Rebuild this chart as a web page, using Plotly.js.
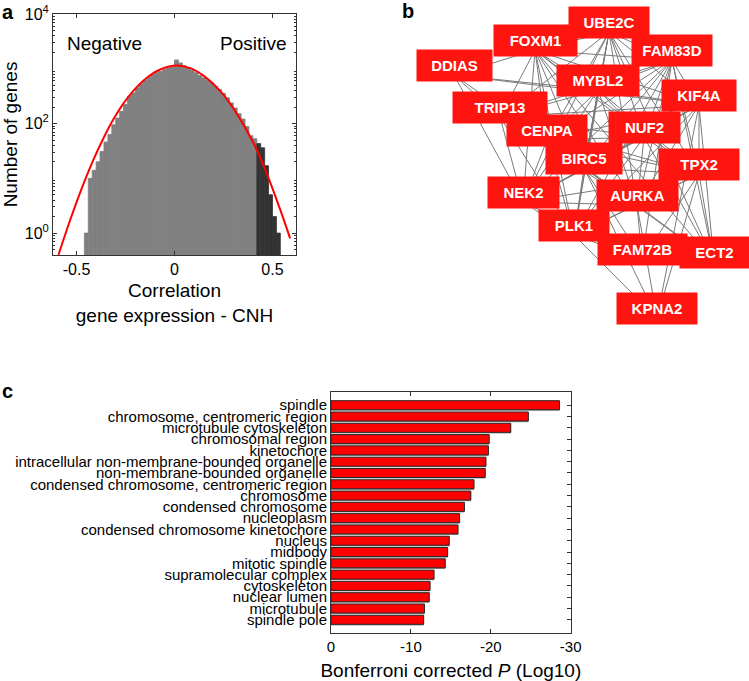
<!DOCTYPE html>
<html><head><meta charset="utf-8">
<script src="https://cdn.plot.ly/plotly-3.0.1.min.js"></script>
<style>html,body{margin:0;padding:0;background:#fff}#chart{width:749px;height:681px}</style>
</head><body><div id="chart"></div>
<script>
// ---------- Panel a: histogram of correlations ----------
const histCentersLight = [-0.45,-0.43,-0.41,-0.39,-0.37,-0.35,-0.33,-0.31,-0.29,-0.27,-0.25,-0.23,-0.21,-0.19,-0.17,-0.15,-0.13,-0.11,-0.09,-0.07,-0.05,-0.03,-0.01,0.01,0.03,0.05,0.07,0.09,0.11,0.13,0.15,0.17,0.19,0.21,0.23,0.25,0.27,0.29,0.31,0.33,0.35,0.37,0.39,0.41];
const histCountsLight = [1,10,14,20,31,46,63,95,126,167,222,315,363,447,530,610,700,780,850,900,970,1040,1080,1450,1280,1140,1050,940,850,755,680,615,550,480,418,355,295,238,192,151,121,88,60,53];
const histCentersDark = [0.43,0.45,0.47,0.49,0.51,0.53];
const histCountsDark = [43,36,17,5,2,1];
const fitX = [-0.592,-0.532,-0.464,-0.413,-0.362,-0.319,-0.268,-0.209,-0.141,-0.073,0.012,0.080,0.148,0.233,0.318,0.403,0.471,0.539,0.590];
const fitY = [0.40,1.75,8.0,22.2,54.5,108,212,398,685,970,1148,1030,750,394,152,44,12.2,2.7,0.80];
const aXTickVals = [-0.5,0,0.5];
const aXTickText = ['-0.5','0','0.5'];
const aYTickVals = [1,100,10000];
const aYTickText = ['10<sup>0</sup>','10<sup>2</sup>','10<sup>4</sup>'];

// ---------- Panel b: network ----------
const nodeNames = ['DDIAS','FOXM1','UBE2C','FAM83D','MYBL2','KIF4A','TRIP13','CENPA','NUF2','BIRC5','TPX2','NEK2','AURKA','PLK1','FAM72B','ECT2','KPNA2'];
const nodeX = [454,535,609,672,598,699,500,547,644,584,699,523,637,574,642,714,657];
const nodeY = [65,40,22,50,80,95,107,130,127,158,164,192,195,225,249,252,308];
const edges = [
["FOXM1","UBE2C"],["FOXM1","FAM83D"],["FOXM1","MYBL2"],["FOXM1","KIF4A"],["FOXM1","TRIP13"],["FOXM1","CENPA"],["FOXM1","NUF2"],["FOXM1","BIRC5"],["FOXM1","TPX2"],["FOXM1","NEK2"],["FOXM1","AURKA"],["FOXM1","PLK1"],["FOXM1","ECT2"],["FOXM1","DDIAS"],
["UBE2C","FAM83D"],["UBE2C","MYBL2"],["UBE2C","KIF4A"],["UBE2C","TRIP13"],["UBE2C","CENPA"],["UBE2C","NUF2"],["UBE2C","BIRC5"],["UBE2C","TPX2"],["UBE2C","NEK2"],["UBE2C","AURKA"],["UBE2C","PLK1"],["UBE2C","ECT2"],
["FAM83D","MYBL2"],["FAM83D","KIF4A"],["FAM83D","TRIP13"],["FAM83D","CENPA"],["FAM83D","NUF2"],["FAM83D","BIRC5"],["FAM83D","TPX2"],["FAM83D","NEK2"],["FAM83D","AURKA"],["FAM83D","PLK1"],["FAM83D","ECT2"],["FAM83D","FAM72B"],
["MYBL2","KIF4A"],["MYBL2","TRIP13"],["MYBL2","CENPA"],["MYBL2","NUF2"],["MYBL2","BIRC5"],["MYBL2","TPX2"],["MYBL2","NEK2"],["MYBL2","AURKA"],["MYBL2","PLK1"],
["KIF4A","TRIP13"],["KIF4A","CENPA"],["KIF4A","NUF2"],["KIF4A","BIRC5"],["KIF4A","TPX2"],["KIF4A","NEK2"],["KIF4A","AURKA"],["KIF4A","PLK1"],["KIF4A","ECT2"],["KIF4A","KPNA2"],
["TRIP13","CENPA"],["TRIP13","NUF2"],["TRIP13","BIRC5"],["TRIP13","TPX2"],["TRIP13","NEK2"],["TRIP13","AURKA"],["TRIP13","PLK1"],["TRIP13","DDIAS"],
["CENPA","NUF2"],["CENPA","BIRC5"],["CENPA","TPX2"],["CENPA","NEK2"],["CENPA","AURKA"],["CENPA","PLK1"],["CENPA","DDIAS"],
["NUF2","BIRC5"],["NUF2","TPX2"],["NUF2","NEK2"],["NUF2","AURKA"],["NUF2","PLK1"],["NUF2","ECT2"],
["BIRC5","TPX2"],["BIRC5","NEK2"],["BIRC5","AURKA"],["BIRC5","PLK1"],["BIRC5","ECT2"],["BIRC5","FAM72B"],["BIRC5","KPNA2"],
["TPX2","NEK2"],["TPX2","AURKA"],["TPX2","PLK1"],["TPX2","ECT2"],["TPX2","FAM72B"],["TPX2","KPNA2"],
["NEK2","AURKA"],["NEK2","PLK1"],["NEK2","DDIAS"],["NEK2","FAM72B"],
["AURKA","PLK1"],["AURKA","ECT2"],["AURKA","FAM72B"],["AURKA","KPNA2"],
["PLK1","ECT2"],["PLK1","FAM72B"],["PLK1","KPNA2"],
["ECT2","FAM72B"],["DDIAS","KIF4A"],["DDIAS","MYBL2"]
];
// box widths (style)
const nodeBoxW = [75,83,80,80,82,74,94,80,71,76,80,71,81,70,89,69,80];

// ---------- Panel c: GO enrichment ----------
const goTerms = ['spindle','chromosome, centromeric region','microtubule cytoskeleton','chromosomal region','kinetochore','intracellular non-membrane-bounded organelle','non-membrane-bounded organelle','condensed chromosome, centromeric region','chromosome','condensed chromosome','nucleoplasm','condensed chromosome kinetochore','nucleus','midbody','mitotic spindle','supramolecular complex','cytoskeleton','nuclear lumen','microtubule','spindle pole'];
const goLogP = [-28.6,-24.7,-22.5,-19.8,-19.7,-19.4,-19.3,-17.9,-17.5,-16.7,-16.1,-15.9,-14.8,-14.6,-14.3,-12.9,-12.4,-12.3,-11.7,-11.6];
const cXTickVals = [0,-10,-20,-30];
const cXTickText = ['0','-10','-20','-30'];

const FONT = 'Liberation Sans, Arial, Helvetica, sans-serif';

// edges -> line segments
const ex = [], ey = [];
const idx = {}; nodeNames.forEach((n,i)=>idx[n]=i);
edges.forEach(([a,b])=>{
  const i=idx[a], j=idx[b];
  ex.push(nodeX[i], nodeX[j], null);
  ey.push(nodeY[i]+10, nodeY[j]+10, null);
});

const minorVals = [];
[0.1,1,10,100,1000].forEach(d=>{for(let k=2;k<=9;k++) minorVals.push(k*d);});

const traces = [
  {type:'bar', x:histCentersLight, y:histCountsLight, width:0.02, marker:{color:'#808080', line:{width:0.8, color:'#808080'}}, xaxis:'x', yaxis:'y', hoverinfo:'skip'},
  {type:'bar', x:histCentersDark, y:histCountsDark, width:0.02, marker:{color:'#333333', line:{width:0.8, color:'#333333'}}, xaxis:'x', yaxis:'y', hoverinfo:'skip'},
  {type:'scatter', mode:'lines', x:fitX, y:fitY, line:{color:'#ff0000', width:2, shape:'spline', smoothing:1}, xaxis:'x', yaxis:'y'},
  {type:'scatter', mode:'lines', x:ex, y:ey, line:{color:'#7a7a7a', width:1}, xaxis:'x3', yaxis:'y3', hoverinfo:'skip'},
  {type:'bar', orientation:'h', x:goLogP, y:goTerms, width:0.8, offset:-0.3, marker:{color:'#9a9a9a', line:{width:0}}, xaxis:'x2', yaxis:'y2', hoverinfo:'skip'},
  {type:'bar', orientation:'h', x:goLogP, y:goTerms, width:0.8, marker:{color:'#ff0000', line:{color:'#262626', width:1}}, xaxis:'x2', yaxis:'y2'}
];

const annotations = [];
nodeNames.forEach((n,i)=>{
  annotations.push({x:nodeX[i], y:nodeY[i], xref:'x3', yref:'y3', text:n, showarrow:false,
    bgcolor:'#ff1410', width:nodeBoxW[i], height:31, borderpad:0, xanchor:'center', yanchor:'middle',
    font:{family:FONT, size:15, color:'#ffffff', weight:'bold'}});
});
annotations.push(
  {x:0, y:1-12/681, xref:'paper', yref:'paper', text:'a', showarrow:false, xanchor:'left', yanchor:'middle', font:{family:FONT, size:20, color:'#000', weight:'bold'}},
  {x:400/749, y:1-11/681, xref:'paper', yref:'paper', text:'b', showarrow:false, xanchor:'left', yanchor:'middle', font:{family:FONT, size:20, color:'#000', weight:'bold'}},
  {x:0, y:1-391/681, xref:'paper', yref:'paper', text:'c', showarrow:false, xanchor:'left', yanchor:'middle', font:{family:FONT, size:20, color:'#000', weight:'bold'}},
  {x:104.5/749, y:1-43.5/681, xref:'paper', yref:'paper', text:'Negative', showarrow:false, xanchor:'center', yanchor:'middle', font:{family:FONT, size:19, color:'#000'}},
  {x:289/749, y:1-43.5/681, xref:'paper', yref:'paper', text:'Positive', showarrow:false, xanchor:'right', yanchor:'middle', font:{family:FONT, size:19, color:'#000'}}
);

const axCommon = {showline:true, linecolor:'#333', linewidth:1, mirror:'ticks', ticks:'inside', ticklen:4, tickcolor:'#333', showgrid:false, zeroline:false, fixedrange:true};

const layout = {
  width:749, height:681, margin:{l:0,r:0,t:0,b:0}, showlegend:false,
  paper_bgcolor:'#ffffff', plot_bgcolor:'rgba(0,0,0,0)', barmode:'overlay',
  font:{family:FONT, color:'#000'},
  xaxis: Object.assign({}, axCommon, {domain:[53/749, 296/749], range:[-0.62,0.62], anchor:'y',
    tickmode:'array', tickvals:aXTickVals, ticktext:aXTickText, tickfont:{size:16},
    title:{text:'Correlation<br>gene expression - CNH', font:{size:19}, standoff:6}}),
  yaxis: Object.assign({}, axCommon, {domain:[1-255/681, 1-14/681], type:'log', range:[-0.4,4.0], anchor:'x',
    tickmode:'array', tickvals:aYTickVals, ticktext:aYTickText, tickfont:{size:16},
    minor:{tickmode:'array', tickvals:minorVals, ticks:'inside', ticklen:2, tickcolor:'#333'},
    title:{text:'Number of genes', font:{size:19}, standoff:4}}),
  xaxis2: Object.assign({}, axCommon, {domain:[331/749, 570.7/749], range:[0,-30], anchor:'y2',
    tickmode:'array', tickvals:cXTickVals, ticktext:cXTickText, tickfont:{size:15},
    title:{text:'Bonferroni corrected <i>P</i> (Log10)', font:{size:19}, standoff:10}}),
  yaxis2: Object.assign({}, axCommon, {domain:[1-633/681, 1-392/681], type:'category', anchor:'x2',
    categoryorder:'array', categoryarray:goTerms, range:[20.17,-1.17],
    tickmode:'array', tickvals:goTerms, ticktext:goTerms,
    tickfont:{size:15}, layer:'below traces', ticklabelstandoff:0}),
  xaxis3: {domain:[400/749, 1], range:[400,749], visible:false, fixedrange:true, anchor:'y3'},
  yaxis3: {domain:[1-330/681, 1], range:[330,0], visible:false, fixedrange:true, anchor:'x3'},
  annotations: annotations
};

Plotly.newPlot('chart', traces, layout, {staticPlot:true, displayModeBar:false});
</script></body></html>
